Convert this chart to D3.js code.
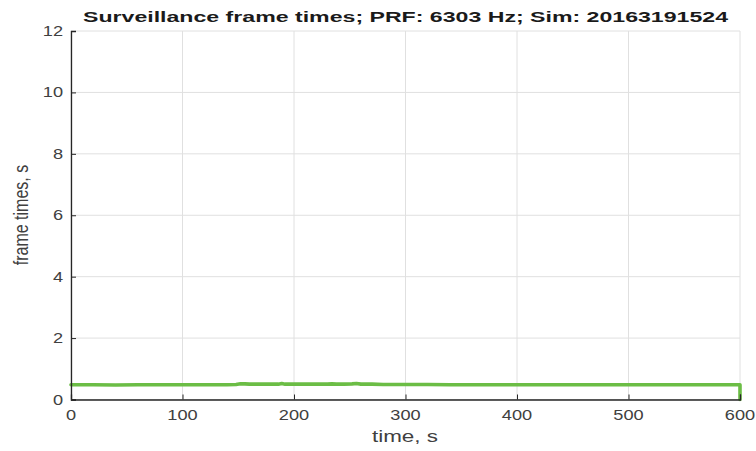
<!DOCTYPE html>
<html>
<head>
<meta charset="utf-8">
<script src="https://cdn.jsdelivr.net/npm/d3@7"></script>
<style>
  html, body { margin: 0; padding: 0; background: #fff; }
  svg { display: block; }
  text { font-family: "Liberation Sans", Arial, Helvetica, sans-serif; }
</style>
</head>
<body>
<svg id="chart" width="756" height="451"></svg>
<script>
// Surveillance frame times over the simulation run
const times = [0, 20, 40, 60, 80, 100, 120, 140, 148, 152, 156, 160, 170, 180, 186, 189, 192, 200, 210, 220, 230, 234, 238, 245, 252, 256, 260, 270, 280, 300, 320, 340, 360, 380, 400, 420, 440, 460, 480, 500, 520, 540, 560, 580, 600, 600];
const frameTimes = [0.48, 0.48, 0.47, 0.48, 0.48, 0.48, 0.48, 0.48, 0.49, 0.51, 0.51, 0.50, 0.50, 0.50, 0.50, 0.52, 0.50, 0.50, 0.50, 0.50, 0.50, 0.51, 0.50, 0.50, 0.51, 0.52, 0.50, 0.50, 0.49, 0.49, 0.49, 0.48, 0.48, 0.48, 0.48, 0.48, 0.48, 0.48, 0.48, 0.48, 0.48, 0.48, 0.48, 0.48, 0.48, 0];
const xTicks = [0, 100, 200, 300, 400, 500, 600];
const yTicks = [0, 2, 4, 6, 8, 10, 12];

const titleText = "Surveillance frame times; PRF: 6303 Hz; Sim: 20163191524";
const xLabel = "time, s";
const yLabel = "frame times, s";

const svg = d3.select("#chart");
const plotLeft = 71, plotRight = 740, plotTop = 31, plotBottom = 399.5;
const sx = 1.3; // horizontal glyph stretch

const x = d3.scaleLinear().domain([0, 600]).range([plotLeft, plotRight]);
const y = d3.scaleLinear().domain([0, 12]).range([plotBottom, plotTop]);

const axisColor = "#262626";
const gridColor = "#e0e0e0";

// grid
svg.append("g").selectAll("line").data(xTicks).join("line")
  .attr("x1", d => x(d)).attr("x2", d => x(d))
  .attr("y1", plotTop).attr("y2", plotBottom)
  .attr("stroke", gridColor).attr("stroke-width", 1);
svg.append("g").selectAll("line").data(yTicks).join("line")
  .attr("x1", plotLeft).attr("x2", plotRight)
  .attr("y1", d => y(d)).attr("y2", d => y(d))
  .attr("stroke", gridColor).attr("stroke-width", 1);

// data line
const line = d3.line().x((d, i) => x(times[i])).y(d => y(d));
svg.append("path")
  .datum(frameTimes)
  .attr("d", line)
  .attr("fill", "none")
  .attr("stroke", "#6bbd45")
  .attr("stroke-width", 3.6)
  .attr("stroke-linejoin", "round")
  .attr("stroke-linecap", "round");

// axes with inward ticks
const xAxis = d3.axisBottom(x).tickValues(xTicks).tickSize(-5).tickFormat("");
const gx = svg.append("g").attr("transform", `translate(0,${plotBottom})`).call(xAxis);
const yAxis = d3.axisLeft(y).tickValues(yTicks).tickSize(-5).tickFormat("");
const gy = svg.append("g").attr("transform", `translate(${plotLeft},0)`).call(yAxis);
[gx, gy].forEach(g => {
  g.selectAll("path.domain").attr("stroke", axisColor).attr("stroke-width", 1.3);
  g.selectAll(".tick line").attr("stroke", axisColor).attr("stroke-width", 1);
});

// tick labels
svg.append("g").selectAll("text").data(xTicks).join("text")
  .attr("transform", d => `translate(${x(d)},420) scale(${sx},1)`)
  .attr("text-anchor", "middle")
  .attr("font-size", 14)
  .attr("fill", "#404040")
  .text(d => d);
svg.append("g").selectAll("text").data(yTicks).join("text")
  .attr("transform", d => `translate(63,${y(d) + 5}) scale(${sx},1)`)
  .attr("text-anchor", "end")
  .attr("font-size", 14)
  .attr("fill", "#404040")
  .text(d => d);

// axis labels
svg.append("text")
  .attr("x", 405).attr("y", 442)
  .attr("text-anchor", "middle")
  .attr("font-size", 16)
  .attr("fill", "#404040")
  .attr("textLength", 66).attr("lengthAdjust", "spacingAndGlyphs")
  .text(xLabel);
svg.append("text")
  .attr("transform", `translate(28,215) scale(${sx},1) rotate(-90)`)
  .attr("text-anchor", "middle")
  .attr("font-size", 16)
  .attr("fill", "#404040")
  .text(yLabel);

// title
svg.append("text")
  .attr("x", 405.5).attr("y", 22)
  .attr("text-anchor", "middle")
  .attr("font-size", 14.5)
  .attr("font-weight", "bold")
  .attr("fill", "#1a1a1a")
  .attr("textLength", 645).attr("lengthAdjust", "spacingAndGlyphs")
  .text(titleText);
</script>
</body>
</html>
